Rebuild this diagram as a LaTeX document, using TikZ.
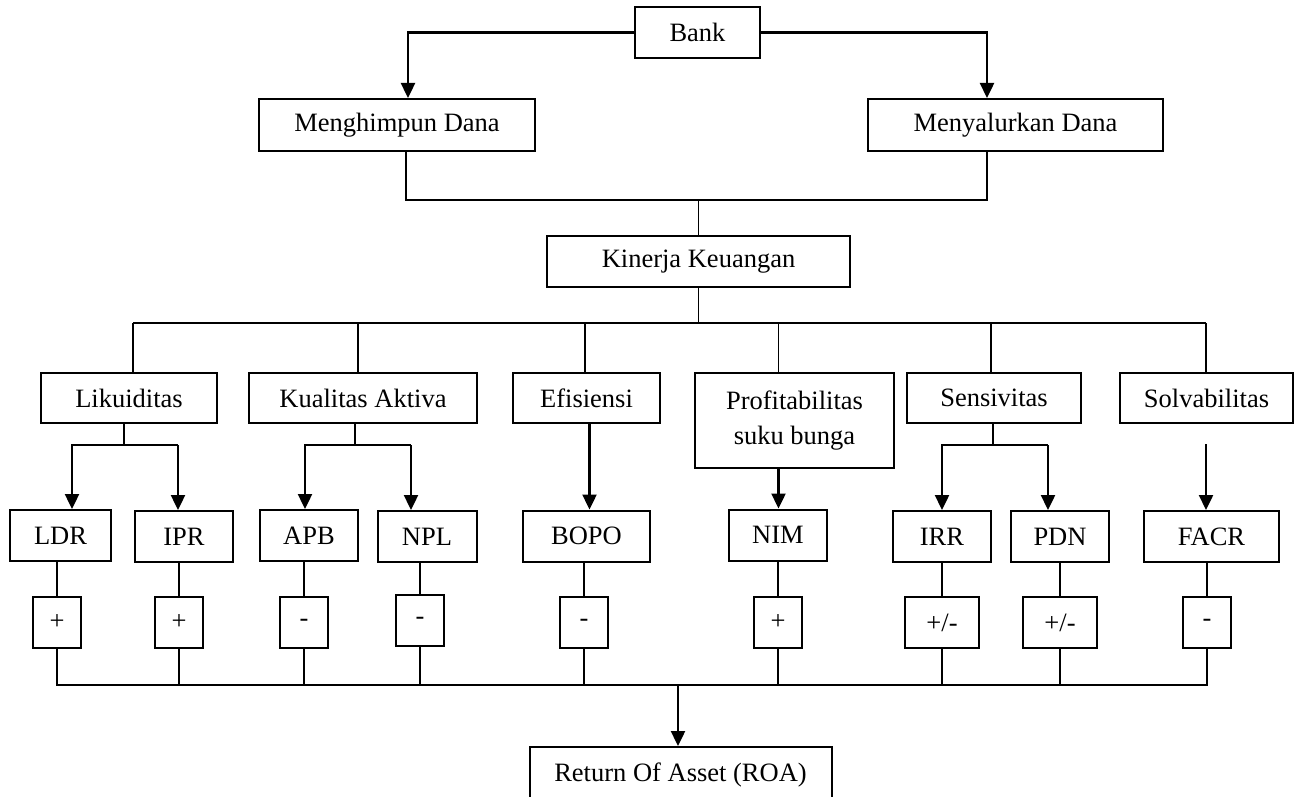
\documentclass[tikz,border=0pt]{standalone}
\usepackage{fontspec}
\setmainfont{Liberation Serif}
\usetikzlibrary{arrows.meta}
\begin{document}
\begin{tikzpicture}[x=1pt,y=-1pt,
  box/.style={draw,line width=2pt,inner sep=0pt,font=\fontsize{26.5}{35}\selectfont,align=center},
  lvl3/.style={box,minimum height=51pt},
  sign/.style={box,minimum height=51pt,minimum width=48pt},
  ln/.style={line width=1.8pt},
  arr/.style={line width=2.4pt,line join=miter,-{Triangle[width=14pt,length=15pt]}}]
\useasboundingbox (0,0) rectangle (1295,797);

% top level
\node[box,minimum width=125pt,minimum height=51pt] (bank) at (697.5,32.5) {Bank};
\node[box,minimum width=276pt,minimum height=52pt] (mh) at (397,125) {Menghimpun Dana};
\node[box,minimum width=295pt,minimum height=52pt] (ms) at (1015.5,125) {Menyalurkan Dana};
\node[box,minimum width=303pt,minimum height=51pt] (kk) at (698.5,261.5) {Kinerja Keuangan};

% level 2
\node[box,minimum width=176pt,minimum height=50pt] (lik) at (129,398) {Likuiditas};
\node[box,minimum width=228pt,minimum height=50pt] (ka) at (363,398) {Kualitas Aktiva};
\node[box,minimum width=147pt,minimum height=50pt] (ef) at (586.5,398) {Efisiensi};
\node[box,minimum width=199pt,minimum height=95pt] (prof) at (794.5,420.5) {Profitabilitas\\suku bunga};
\node[box,minimum width=174pt,minimum height=50pt] (sen) at (994,398) {Sensivitas};
\node[box,minimum width=173pt,minimum height=50pt] (sol) at (1206.5,398) {Solvabilitas};

% level 3
\node[lvl3,minimum width=101pt] (ldr) at (60.5,535.5) {LDR};
\node[lvl3,minimum width=98pt] (ipr) at (184,536.5) {IPR};
\node[lvl3,minimum width=98pt] (apb) at (309,535.5) {APB};
\node[lvl3,minimum width=99pt] (npl) at (427,536.5) {NPL};
\node[lvl3,minimum width=127pt] (bopo) at (586.5,536) {BOPO};
\node[lvl3,minimum width=98pt] (nim) at (778,535) {NIM};
\node[lvl3,minimum width=98pt] (irr) at (942,536.5) {IRR};
\node[lvl3,minimum width=98pt] (pdn) at (1060,536.5) {PDN};
\node[lvl3,minimum width=135pt] (facr) at (1211.5,536.5) {FACR};

% signs
\node[sign] (s1) at (57,622.5) {+};
\node[sign] (s2) at (179,622.5) {+};
\node[sign] (s3) at (304,622.5) {-};
\node[sign] (s4) at (420,620.5) {-};
\node[sign] (s5) at (584,622.5) {-};
\node[sign] (s6) at (778,622.5) {+};
\node[sign,minimum width=74pt] (s7) at (942,622.5) {+/-};
\node[sign,minimum width=74pt] (s8) at (1060,622.5) {+/-};
\node[sign] (s9) at (1207,622.5) {-};

% bottom
\node[box,minimum width=302pt,minimum height=55pt] (roa) at (680.5,774.5) {Return Of Asset (ROA)};

% Bank to the two branches
\draw[arr] (bank.west) -| ([xshift=11pt]mh.north);
\draw[arr] (bank.east) -| ([xshift=-28.5pt]ms.north);
\coordinate (j1) at (698.5,200);
\draw[ln] ([xshift=9pt]mh.south) |- (j1) -| ([xshift=-28.5pt]ms.south);
\draw[ln] (j1) -- (kk.north);

% Kinerja to level 2
\coordinate (j2) at (698.5,323);
\draw[ln] (kk.south) -- (j2);
\coordinate (h1) at (133,323);
\coordinate (h2) at (358,323);
\coordinate (h3) at (585,323);
\coordinate (h4) at (778.5,323);
\coordinate (h5) at (991,323);
\coordinate (h6) at (1206,323);
\draw[ln] (h1) -- (h6);
\draw[ln] (h1) -- (h1 |- lik.north);
\draw[ln] (h2) -- (h2 |- ka.north);
\draw[ln] (h3) -- (h3 |- ef.north);
\draw[ln] (h4) -- (h4 |- prof.north);
\draw[ln] (h5) -- (h5 |- sen.north);
\draw[ln] (h6) -- (h6 |- sol.north);

% level 2 to level 3
\coordinate (k1) at (124,445);
\coordinate (a1) at (72,445);
\coordinate (a2) at (178,445);
\draw[ln] (k1 |- lik.south) -- (k1);
\draw[arr] (a2) -- (a1) -- (a1 |- ldr.north);
\draw[arr] (a2) -- (a2 |- ipr.north);

\coordinate (k2) at (355,445);
\coordinate (a3) at (305,445);
\coordinate (a4) at (411,445);
\draw[ln] (k2 |- ka.south) -- (k2);
\draw[arr] (a4) -- (a3) -- (a3 |- apb.north);
\draw[arr] (a4) -- (a4 |- npl.north);

\coordinate (e1) at (589.5,0);
\draw[arr] (e1 |- ef.south) -- (e1 |- bopo.north);
\coordinate (e2) at (778.5,0);
\draw[arr] (e2 |- prof.south) -- (e2 |- nim.north);

\coordinate (k3) at (993,445);
\coordinate (a5) at (942,445);
\coordinate (a6) at (1048,445);
\draw[ln] (k3 |- sen.south) -- (k3);
\draw[arr] (a6) -- (a5) -- (a5 |- irr.north);
\draw[arr] (a6) -- (a6 |- pdn.north);

\coordinate (e3) at (1206,444);
\draw[arr] (e3) -- (e3 |- facr.north);

% level 3 to signs
\draw[ln] (s1.north) -- (s1.north |- ldr.south);
\draw[ln] (s2.north) -- (s2.north |- ipr.south);
\draw[ln] (s3.north) -- (s3.north |- apb.south);
\draw[ln] (s4.north) -- (s4.north |- npl.south);
\draw[ln] (s5.north) -- (s5.north |- bopo.south);
\draw[ln] (s6.north) -- (s6.north |- nim.south);
\draw[ln] (s7.north) -- (s7.north |- irr.south);
\draw[ln] (s8.north) -- (s8.north |- pdn.south);
\draw[ln] (s9.north) -- (s9.north |- facr.south);

% signs to ROA
\coordinate (j3) at (678,685);
\draw[ln] (s1.south) |- (j3) -| (s9.south);
\draw[ln] (s2.south) -- (s2.south |- j3);
\draw[ln] (s3.south) -- (s3.south |- j3);
\draw[ln] (s4.south) -- (s4.south |- j3);
\draw[ln] (s5.south) -- (s5.south |- j3);
\draw[ln] (s6.south) -- (s6.south |- j3);
\draw[ln] (s7.south) -- (s7.south |- j3);
\draw[ln] (s8.south) -- (s8.south |- j3);
\draw[arr] (j3) -- (j3 |- roa.north);
\end{tikzpicture}
\end{document}
